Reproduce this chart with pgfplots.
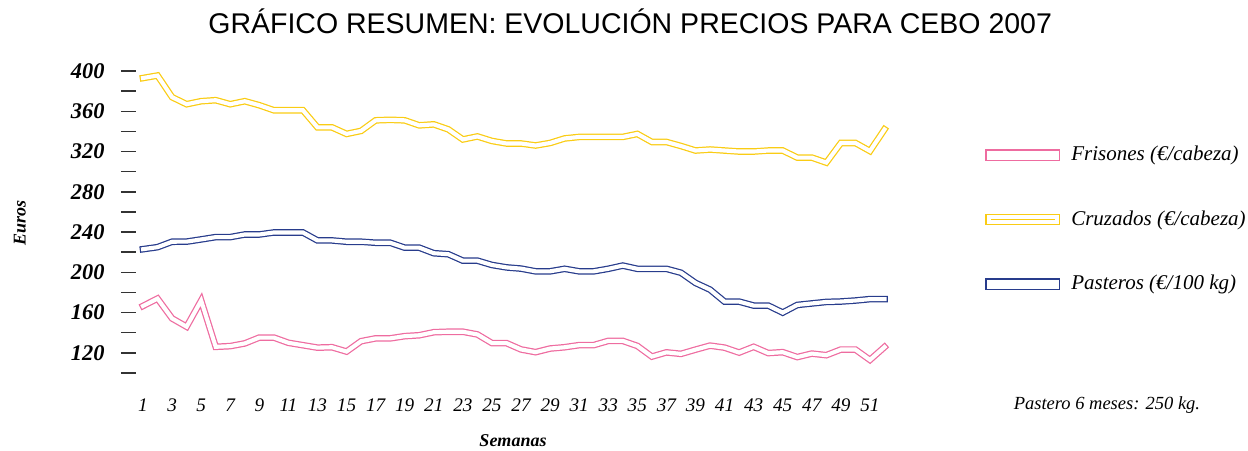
\documentclass[border=0pt]{standalone}
\usepackage{fontspec}
\setmainfont{Liberation Serif}
\newfontfamily\arialf{Liberation Sans}
\usepackage{pgfplots}
\usepackage{pgfplotstable}
\pgfplotsset{compat=1.18}
\definecolor{pinkc}{RGB}{238,108,160}
\definecolor{yelc}{RGB}{250,204,20}
\definecolor{bluec}{RGB}{40,60,140}

\pgfplotstableread{
w v
1 393
2 395.5
3 374
4 367
5 370
6 371
7 367
8 370
9 366
10 361
11 361
12 361
13 344
14 344
15 337.5
16 340.5
17 351
18 351.5
19 351
20 346
21 347
22 342
23 332
24 335
25 330.5
26 328
27 328
28 326
29 328.5
30 333
31 334.5
32 334.5
33 334.5
34 334.5
35 337.5
36 329.5
37 329.5
38 325.5
39 321
40 322
41 321
42 320
43 320
44 321
45 321
46 314
47 314
48 309
49 328.5
50 328.5
51 320.5
52 342
}\cruzados

\pgfplotstableread{
w v
1 223
2 225
3 230.4
4 230.5
5 232.7
6 235
7 235
8 237.6
9 237.6
10 239.6
11 239.6
12 239.6
13 231.7
14 231.7
15 230.4
16 230.4
17 229.4
18 229.4
19 224.5
20 224.5
21 219
22 218
23 211.6
24 211.6
25 207.3
26 204.9
27 203.7
28 201
29 201
30 203.5
31 201
32 201
33 203.5
34 206.7
35 203.5
36 203.5
37 203.5
38 199.6
39 189.5
40 182.8
41 170.9
42 170.9
43 167
44 167
45 160
46 167.6
47 169.1
48 170.6
49 171
50 172
51 173.4
52 173.4
}\pasteros

\pgfplotstableread{
w v
1 166.6
2 173.9
3 154.2
4 146
5 172
6 126
7 126.7
8 129.4
9 135.2
10 135.2
11 130
12 127.6
13 125.2
14 125.6
15 121.3
16 131.6
17 134.4
18 134.4
19 136.6
20 137.5
21 140.5
22 141
23 141
24 138.3
25 129.7
26 129.7
27 123.4
28 120.7
29 124.3
30 125.6
31 127.7
32 127.7
33 131.9
34 131.9
35 126.9
36 116.3
37 120.5
38 119
39 123.2
40 127.2
41 125.2
42 120.3
43 126
44 119.8
45 120.7
46 115.8
47 119.3
48 117.7
49 123.3
50 123.3
51 113
52 125.8
}\frisones

\begin{document}
\begin{tikzpicture}
\useasboundingbox (0,0) rectangle (624pt,225pt);
\begin{axis}[
  at={(71.5pt,38.5pt)}, anchor=south west,
  scale only axis, width=370.75pt, height=151pt,
  xmin=1, xmax=52, ymin=100, ymax=400,
  clip=false,
  axis line style={draw=none},
  xtick={1,3,...,51},
  ytick={100,120,...,400},
  yticklabels={,120,,160,,200,,240,,280,,320,,360,,400},
  ytick pos=left, xtick pos=bottom,
  tick align=outside,
  major tick length=7.5pt,
  xtick style={draw=none},
  ytick style={black!80, line width=0.75pt, xshift=-3.6pt},
  /pgf/number format/assume math mode=true,
  yticklabel style={font=\fontsize{11.2}{13}\selectfont\bfseries\itshape, anchor=east, inner sep=0pt, xshift=-11.5pt},
  xticklabel style={font=\fontsize{9.6}{11}\selectfont\itshape, anchor=north, inner sep=0pt, yshift=-5.3pt},
  legend style={draw=none, fill=none, at={(1.1355,0.508)}, anchor=west, inner sep=0pt,
    column sep=5.5pt, row sep=21.75pt,
    font=\fontsize{10.5}{12}\selectfont\itshape,
    nodes={inner sep=0pt, text height=8pt, text depth=2.5pt}},
  legend cell align=left,
  every axis plot/.append style={line width=0.62pt, double=white, double distance=2.05pt, line cap=rect, line join=miter},
]
\addplot[draw=pinkc, legend image code/.code={\draw[pinkc, line width=0.6pt] (0pt,-1.2pt) rectangle (34.2pt,1.2pt);}] table[x=w, y=v] {\frisones};
\addlegendentry{Frisones (€/cabeza)}
\addplot[draw=yelc, legend image code/.code={\draw[yelc, line width=0.6pt] (0pt,-1.2pt) rectangle (34.2pt,1.2pt);}] table[x=w, y=v] {\cruzados};
\addlegendentry{Cruzados (€/cabeza)}
\addplot[draw=bluec, legend image code/.code={\draw[bluec, line width=0.6pt] (0pt,-1.2pt) rectangle (34.2pt,1.2pt);}] table[x=w, y=v] {\pasteros};
\addlegendentry{Pasteros (€/100 kg)}

\node[font=\arialf\fontsize{14.25}{16}\selectfont, anchor=base] at (axis description cs:0.657,1.1248) {GRÁFICO RESUMEN: EVOLUCIÓN PRECIOS PARA CEBO 2007};
\node[font=\fontsize{9}{11}\selectfont\bfseries\itshape, rotate=90] at (axis description cs:-0.166,0.497) {Euros};
\node[font=\fontsize{9}{11}\selectfont\bfseries\itshape] at (axis description cs:0.499,-0.225) {Semanas};
\node[font=\fontsize{9.25}{11}\selectfont\itshape] at (axis description cs:1.300,-0.106) {Pastero 6 meses: 250 kg.};
\end{axis}
\end{tikzpicture}
\end{document}
